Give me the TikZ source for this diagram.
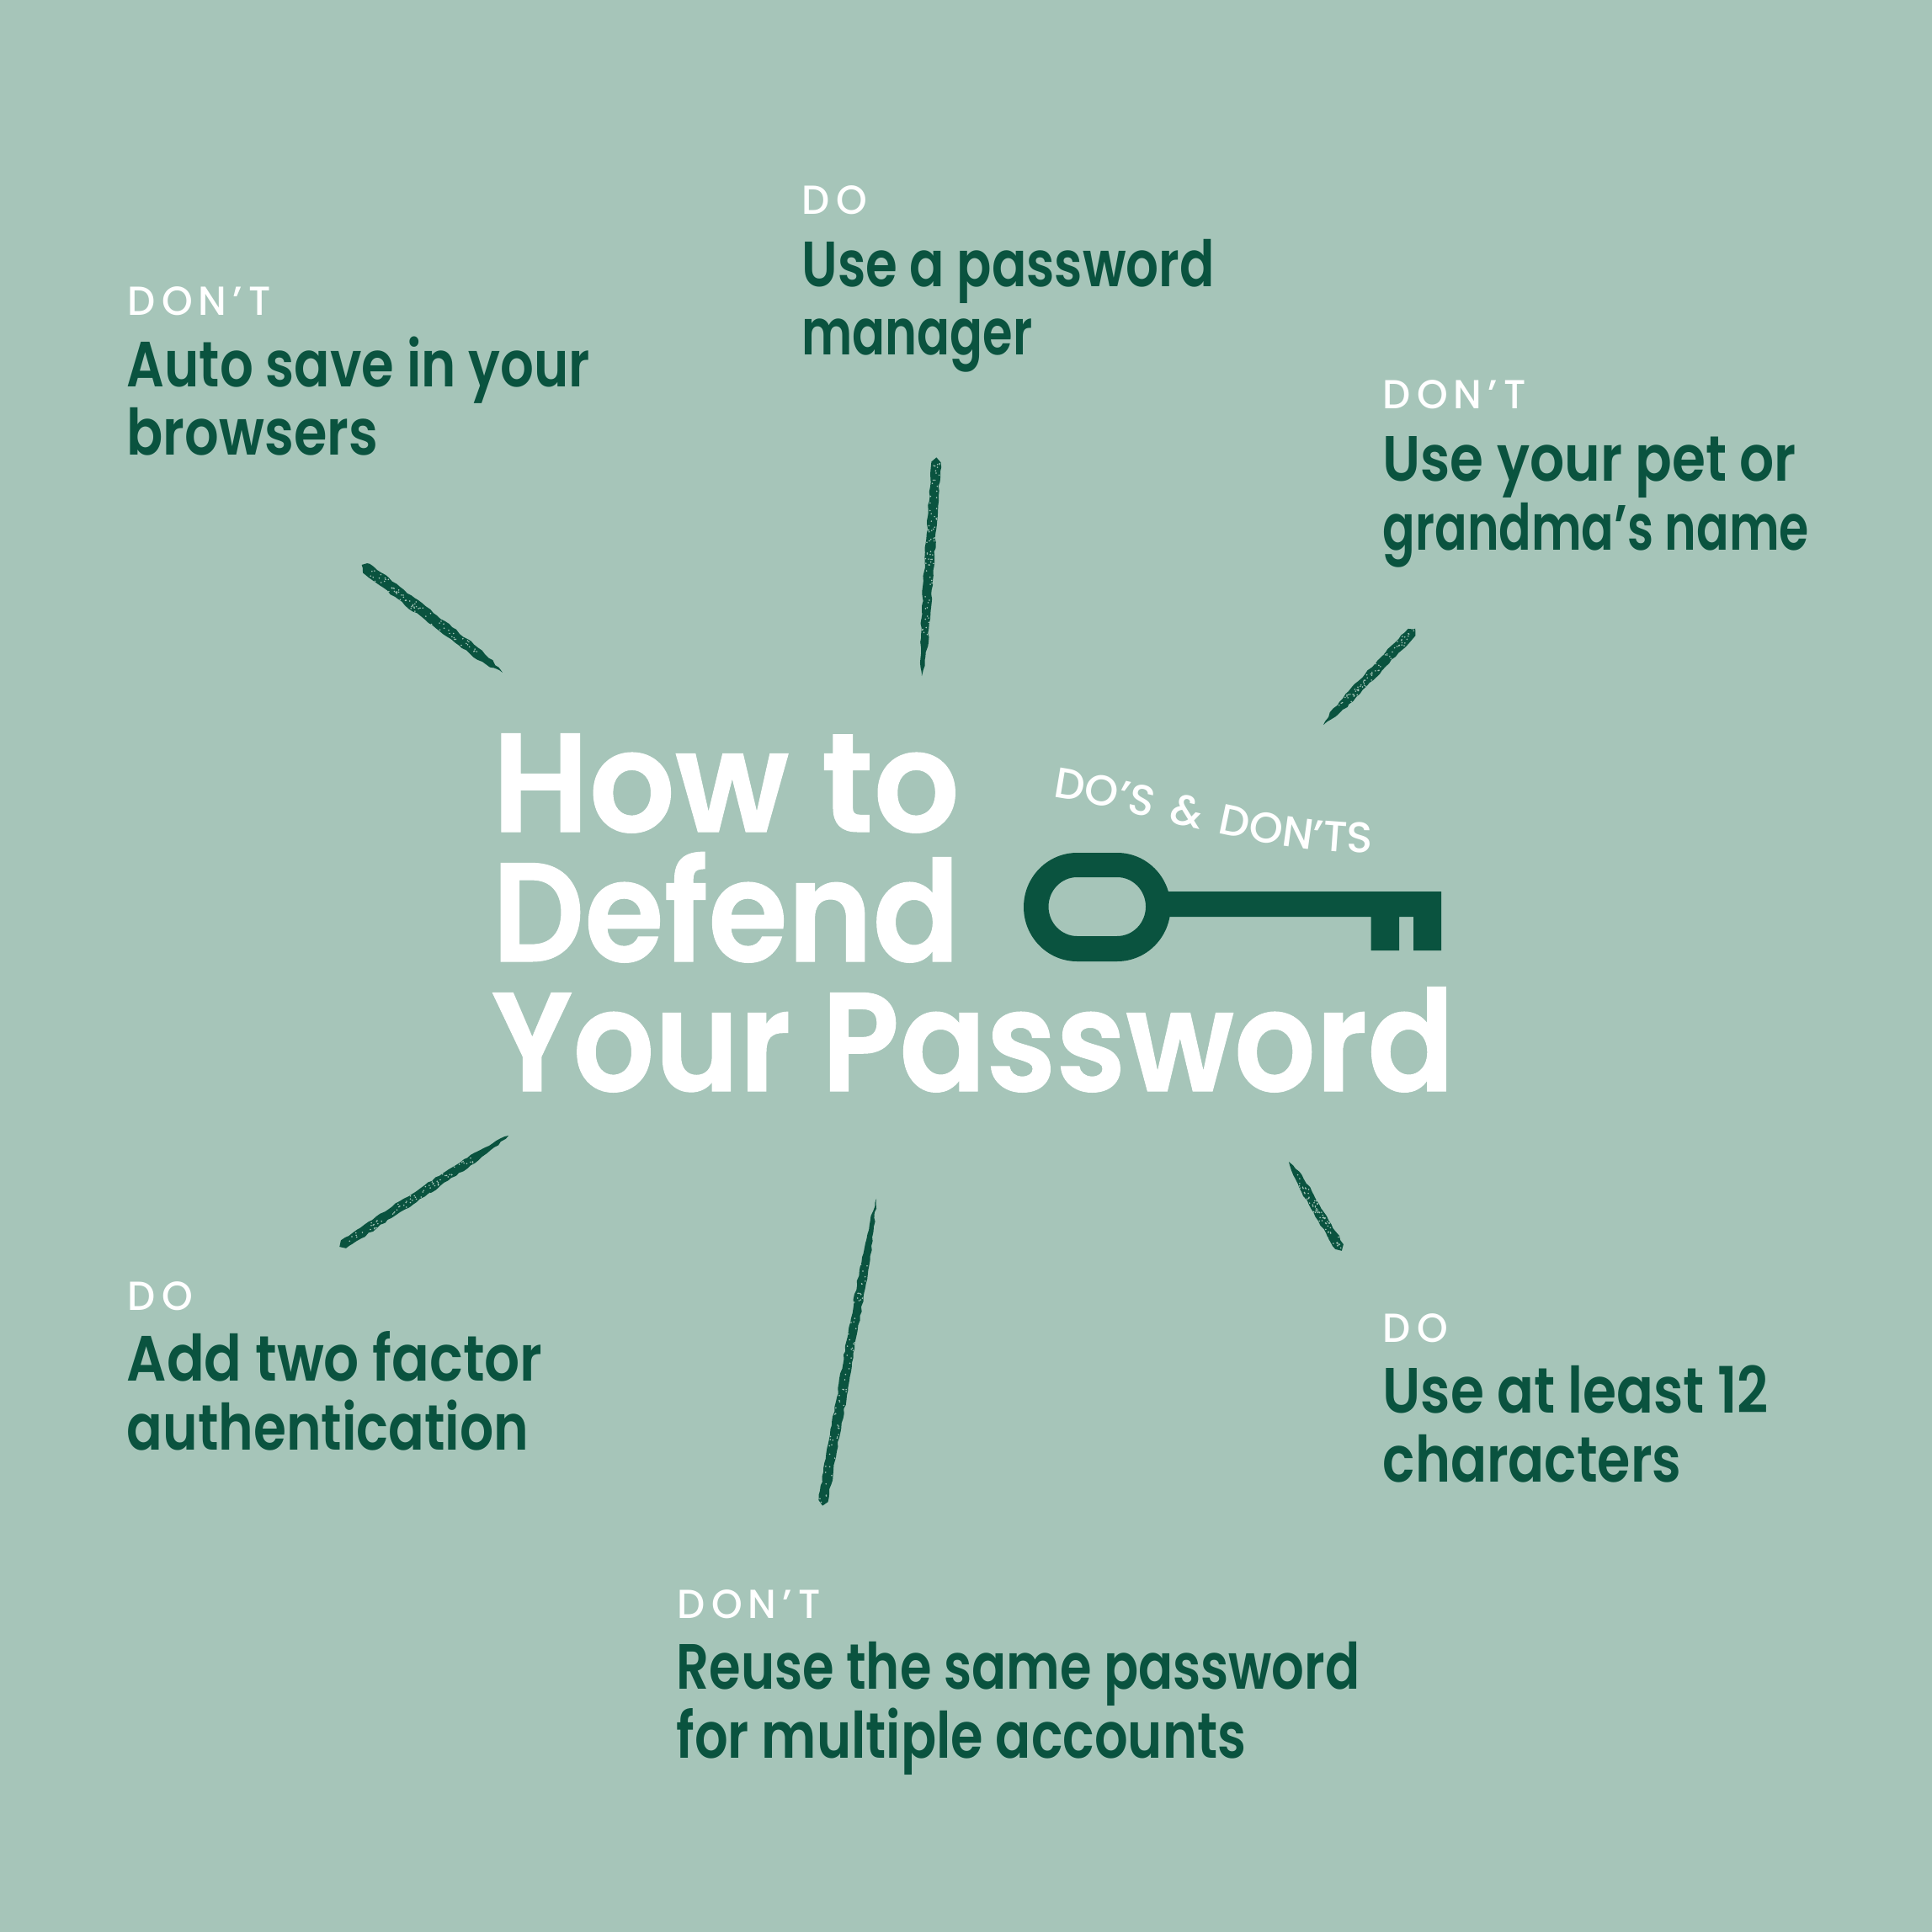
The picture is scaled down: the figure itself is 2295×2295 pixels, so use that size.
\documentclass[tikz,border=0pt]{standalone}
\usepackage{fontspec}
\setmainfont{Poppins}
\newfontfamily\capsfont{Poppins Medium}[LetterSpace=15,FakeStretch=0.97]
\newfontfamily\arcfont{Poppins Medium}[LetterSpace=14,FakeStretch=1]
\usetikzlibrary{calc,decorations.pathmorphing,decorations.text}
\definecolor{sage}{HTML}{A6C5B9}
\definecolor{pine}{HTML}{0A533F}
% one line of a tip or of the title, with its own width
\newcommand{\tipline}[2]{{\fontspec{Poppins SemiBold}[FakeStretch=#1]\fontsize{21.6}{23.3}\selectfont #2}}
\newcommand{\titleline}[2]{{\fontspec{Poppins SemiBold}[FakeStretch=#1,FakeBold=0.6]\fontsize{47.5}{44}\selectfont #2}}
\tikzset{
	tiplabel/.style={anchor=base west,inner sep=0pt,text=white,font=\capsfont\fontsize{13.7}{16}\selectfont},
	tiptext/.style={anchor=base west,inner sep=0pt,text=pine,align=left,font=\fontsize{21.6}{23.3}\selectfont},
	titlenode/.style={anchor=base west,inner sep=0pt,text=white},
	chalkfill/.style={fill=pine,decorate,decoration={random steps,segment length=1.6pt,amplitude=.3pt}}
}
\newcommand{\chalkstroke}[3]{
	\coordinate (m) at ($(#1)!.85!(#2)$);
	\fill[chalkfill] ($(#1)!#3!90:(#2)$) .. controls ($(m)!#3!90:(#2)$) .. (#2) .. controls ($(m)!-#3!90:(#2)$) .. ($(#1)!-#3!90:(#2)$) -- ($(#1)!-#3!(#2)$) -- cycle;
	\foreach \i in {1,...,70}
		\fill[sage] ($(#1)!rnd*.8!(#2)$) ++(rand*5,rand*5) circle (.25pt);
}
\begin{document}
\begin{tikzpicture}[x=.01cm,y=-.01cm]
		\pgfmathsetseed{7}
		\fill[sage] (0,0) rectangle (2295,2295);
		% title
		\node[titlenode] (how) at (584,988) {\titleline{.96}{How to}};
		\node[titlenode] (defend) at (584,1142) {\titleline{.915}{Defend}};
		\node[titlenode] (your) at (583,1296) {\titleline{.911}{Your Password}};
		% tips, anchored on the baseline of their last line
		\node[tiplabel] (dontA) at (151,375) {DON’T};
		\node[tiptext] (autosave) at (150,541) {\tipline{.823}{Auto save in your}\\\tipline{.84}{browsers}};
		\node[tiplabel] (doA) at (952,255) {DO};
		\node[tiptext] (manager) at (952,422) {\tipline{.804}{Use a password}\\\tipline{.757}{manager}};
		\node[tiplabel] (dontB) at (1642,486) {DON’T};
		\node[tiptext] (petname) at (1642,653) {\tipline{.85}{Use your pet or}\\\tipline{.75}{grandma’s name}};
		\node[tiplabel] (doB) at (151,1556) {DO};
		\node[tiptext] (twofactor) at (150,1722) {\tipline{.87}{Add two factor}\\\tipline{.83}{authentication}};
		\node[tiplabel] (doC) at (1642,1594) {DO};
		\node[tiptext] (twelve) at (1642,1760) {\tipline{.852}{Use at least 12}\\\tipline{.837}{characters}};
		\node[tiplabel] (dontC) at (804,1922) {DON’T};
		\node[tiptext] (reuse) at (803,2088) {\tipline{.80}{Reuse the same password}\\\tipline{.82}{for multiple accounts}};
		% key
		\fill[pine,even odd rule] (1279.5,1013) -- (1327,1013) arc[start angle=-90,end angle=90,x radius=63.5,y radius=64.5] -- (1279.5,1142) arc[start angle=90,end angle=270,x radius=63.5,y radius=64.5] -- cycle
			(1279.5,1042) -- (1327,1042) arc[start angle=-90,end angle=90,x radius=34,y radius=35] -- (1279.5,1112) arc[start angle=90,end angle=270,x radius=34,y radius=35] -- cycle;
		\fill[pine] (1385,1059) -- (1712,1059) -- (1712,1129) -- (1679,1129) -- (1679,1089) -- (1662,1089) -- (1662,1129) -- (1628.5,1129) -- (1628.5,1089) -- (1385,1089) -- cycle;
		\coordinate (arcA) at (1250,947);
		\coordinate (arcB) at (1630,1013);
		\path[decorate,decoration={text along path,text align={fit to path},text={|\arcfont\fontsize{14.5}{17}\selectfont\color{white}|DO’S {\&} DON’TS}}] (arcA) .. controls (1350,960) and (1500,1015) .. (arcB);
		% strokes
		\coordinate (s1a) at (435,675); \coordinate (s1b) at (597,799);
		\coordinate (s2a) at (1112,549); \coordinate (s2b) at (1095,803);
		\coordinate (s3a) at (1677,751); \coordinate (s3b) at (1572,861);
		\coordinate (s4a) at (408,1478); \coordinate (s4b) at (604,1349);
		\coordinate (s5a) at (978,1783); \coordinate (s5b) at (1041,1424);
		\coordinate (s6a) at (1591,1481); \coordinate (s6b) at (1531,1380);
		\chalkstroke{s1a}{s1b}{1.9pt}
		\chalkstroke{s2a}{s2b}{1.6pt}
		\chalkstroke{s3a}{s3b}{1.7pt}
		\chalkstroke{s4a}{s4b}{1.6pt}
		\chalkstroke{s5a}{s5b}{1.6pt}
		\chalkstroke{s6a}{s6b}{1.6pt}
\end{tikzpicture}
\end{document}
